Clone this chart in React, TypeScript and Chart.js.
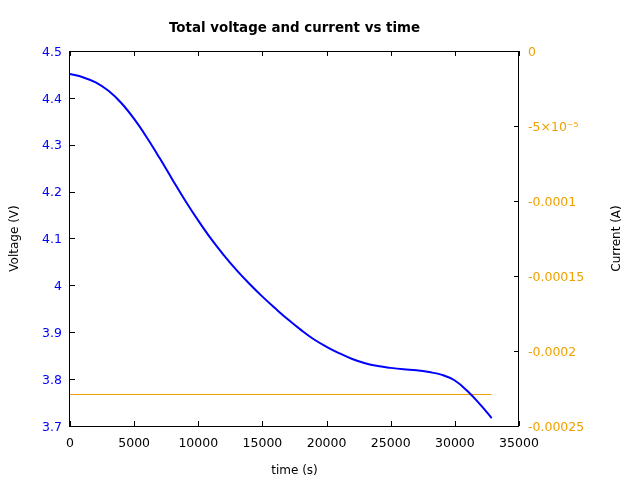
import React, { useEffect, useRef } from "react";
import { Chart, registerables } from "chart.js";

Chart.register(...registerables);

// ---- data ----
const voltageTime = [
  0, 1000, 2000, 3000, 4000, 5000, 6000, 7000, 8000, 9000, 10000, 11000, 12000,
  13000, 14000, 15000, 16000, 17000, 18000, 19000, 20000, 21000, 22000, 23000,
  24000, 25000, 26000, 27000, 28000, 29000, 30000, 31000, 32000, 32870,
];
const voltageValues = [
  4.451, 4.444, 4.433, 4.415, 4.389, 4.355, 4.315, 4.271, 4.225, 4.180, 4.138,
  4.099, 4.064, 4.032, 4.003, 3.976, 3.951, 3.927, 3.905, 3.885, 3.869, 3.855,
  3.843, 3.834, 3.828, 3.824, 3.821, 3.819, 3.815, 3.809, 3.797, 3.774, 3.745,
  3.717,
];
const currentTime = [0, 32870];
const currentValues = [-0.000229, -0.000229];

const timeTicks = [0, 5000, 10000, 15000, 20000, 25000, 30000, 35000];
const voltageTicks = [3.7, 3.8, 3.9, 4.0, 4.1, 4.2, 4.3, 4.4, 4.5];
const voltageTickLabels = ["3.7", "3.8", "3.9", "4", "4.1", "4.2", "4.3", "4.4", "4.5"];
const currentTicks = [-0.00025, -0.0002, -0.00015, -0.0001, -0.00005, 0];
const currentTickLabels = ["-0.00025", "-0.0002", "-0.00015", "-0.0001", "-5×10⁻⁵", "0"];

const chartTitle = "Total voltage and current vs time";
const xTitle = "time (s)";
const yTitle = "Voltage (V)";
const y1Title = "Current (A)";

const BLUE = "#0000ff";
const ORANGE = "#f0a000";
const FONT = "'DejaVu Sans', sans-serif";
const TICK_SIZE = 12.5;

const framePlugin = {
  id: "frame",
  afterDatasetsDraw(chart: any) {
    const { ctx, chartArea, scales } = chart;
    const { left, right, top, bottom } = chartArea;
    const L = 5;
    ctx.save();
    ctx.strokeStyle = "#000";
    ctx.lineWidth = 1;
    ctx.beginPath();
    scales.x.ticks.forEach((t: any) => {
      const px = Math.round(scales.x.getPixelForValue(t.value)) + 0.5;
      ctx.moveTo(px, bottom);
      ctx.lineTo(px, bottom - L);
      ctx.moveTo(px, top);
      ctx.lineTo(px, top + L);
    });
    scales.y.ticks.forEach((t: any) => {
      const py = Math.round(scales.y.getPixelForValue(t.value)) + 0.5;
      ctx.moveTo(left, py);
      ctx.lineTo(left + L, py);
    });
    scales.y1.ticks.forEach((t: any) => {
      const py = Math.round(scales.y1.getPixelForValue(t.value)) + 0.5;
      ctx.moveTo(right, py);
      ctx.lineTo(right - L, py);
    });
    ctx.stroke();
    ctx.strokeRect(Math.round(left) - 0.5, Math.round(top) + 0.5, Math.round(right - left), Math.round(bottom - top));
    // right axis title, reading bottom-to-top
    ctx.fillStyle = "#000";
    ctx.font = `12px ${FONT}`;
    ctx.textAlign = "center";
    ctx.textBaseline = "middle";
    ctx.translate(617, (top + bottom) / 2);
    ctx.rotate(-Math.PI / 2);
    ctx.fillText(y1Title, 0, 0);
    ctx.restore();
  },
};

export default function App() {
  const ref = useRef<HTMLCanvasElement>(null);
  useEffect(() => {
    if (!ref.current) return;
    const chart = new Chart(ref.current, {
      type: "line",
      data: {
        datasets: [
          {
            label: "Voltage",
            data: voltageTime.map((t, i) => ({ x: t, y: voltageValues[i] })),
            borderColor: BLUE,
            borderWidth: 2,
            pointRadius: 0,
            tension: 0.4,
            yAxisID: "y",
          },
          {
            label: "Current",
            data: currentTime.map((t, i) => ({ x: t, y: currentValues[i] })),
            borderColor: ORANGE,
            borderWidth: 1,
            pointRadius: 0,
            yAxisID: "y1",
          },
        ],
      },
      options: {
        responsive: false,
        animation: false,
        layout: { padding: 0 },
        plugins: {
          legend: { display: false },
          tooltip: { enabled: false },
          title: {
            display: true,
            text: chartTitle,
            fullSize: false,
            color: "#000",
            font: { family: FONT, size: 13.4, weight: "bold", lineHeight: 1.2 },
            padding: { top: 20.2, bottom: 14.7 },
          },
        },
        scales: {
          x: {
            type: "linear",
            min: 0,
            max: 35000,
            afterBuildTicks: (s: any) => {
              s.ticks = timeTicks.map((v) => ({ value: v }));
            },
            afterFit: (s: any) => {
              s.height = 54;
            },
            grid: { display: false, drawTicks: false },
            border: { display: false },
            ticks: {
              color: "#000",
              padding: 10,
              maxRotation: 0,
              autoSkip: false,
              font: { family: FONT, size: TICK_SIZE },
              callback: (v: any) => String(v),
            },
            title: {
              display: true,
              text: xTitle,
              color: "#000",
              font: { family: FONT, size: 12, lineHeight: 1.2 },
              padding: { top: 0, bottom: 1.5 },
            },
          },
          y: {
            type: "linear",
            position: "left",
            min: 3.7,
            max: 4.5,
            afterBuildTicks: (s: any) => {
              s.ticks = voltageTicks.map((v) => ({ value: v }));
            },
            afterFit: (s: any) => {
              s.width = 70;
            },
            grid: { display: false, drawTicks: false },
            border: { display: false },
            ticks: {
              color: BLUE,
              padding: 8,
              labelOffset: 1.5,
              autoSkip: false,
              font: { family: FONT, size: TICK_SIZE },
              callback: (_v: any, i: number) => voltageTickLabels[i],
            },
            title: {
              display: true,
              text: yTitle,
              color: "#000",
              font: { family: FONT, size: 12, lineHeight: 1.2 },
              padding: { top: 7.8, bottom: 0 },
            },
          },
          y1: {
            type: "linear",
            position: "right",
            min: -0.00025,
            max: 0,
            afterBuildTicks: (s: any) => {
              s.ticks = currentTicks.map((v) => ({ value: v }));
            },
            afterFit: (s: any) => {
              s.width = 121;
            },
            grid: { display: false, drawTicks: false },
            border: { display: false },
            ticks: {
              color: ORANGE,
              padding: 9,
              labelOffset: 1.5,
              autoSkip: false,
              font: { family: FONT, size: TICK_SIZE },
              callback: (_v: any, i: number) => currentTickLabels[i],
            },
          },
        },
      },
      plugins: [framePlugin],
    } as any);
    return () => chart.destroy();
  }, []);
  return (
    <div style={{ position: "absolute", left: 0, top: 0, width: 640, height: 480, background: "#fff" }}>
      <canvas ref={ref} width={640} height={480} />
    </div>
  );
}
